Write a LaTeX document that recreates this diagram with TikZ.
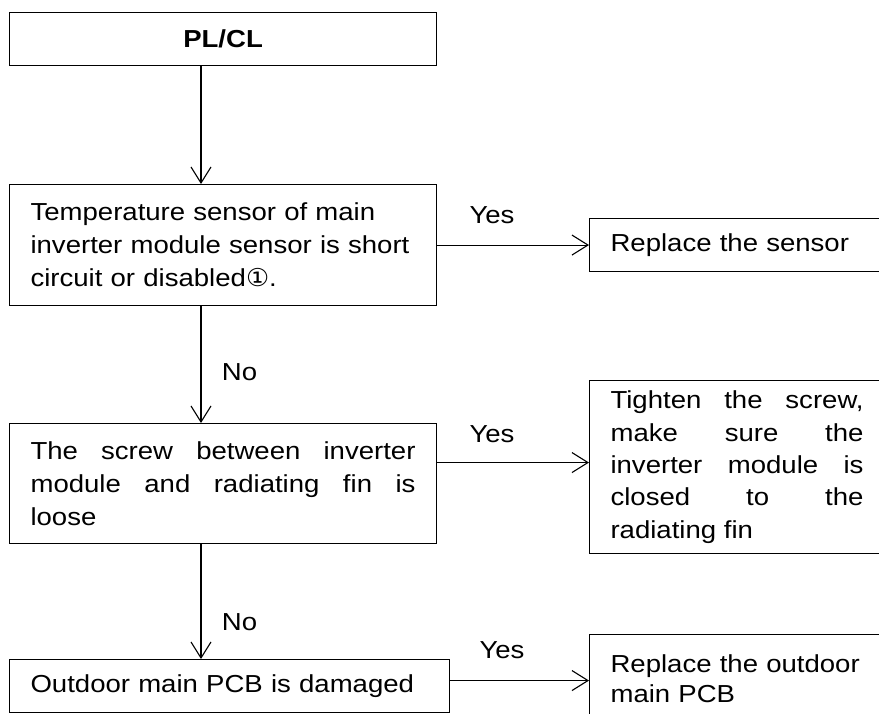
\documentclass[tikz,border=0pt]{standalone}
\usepackage{fontspec}
\setmainfont{Liberation Sans}[FakeStretch=1.12]
\newfontfamily\symfont{DejaVu Sans}[FakeStretch=1.05]
\usetikzlibrary{arrows.meta}
\begin{document}
\begin{tikzpicture}[x=1pt,y=-1pt,
  txt/.style={font=\fontsize{24.6}{33}\selectfont},
  box/.style={draw, line width=1.1pt, rectangle, inner ysep=0pt, inner xsep=21pt,
    anchor=north west, txt},
  conn/.style={line width=1.1pt, -{Straight Barb[length=16pt,width=20pt,line width=1.1pt]}},
  lbl/.style={txt, inner sep=0pt}]
\clip (0,0) rectangle (879,713);
\fill[white] (0,0) rectangle (879,713);
\coordinate (ax) at (201,0);
% left column
\node[box, text width=385pt, minimum height=53pt, align=center,
  font=\bfseries\fontsize{24.6}{33}\selectfont] (b1) at (9,12) {PL/CL};
\node[box, text width=385pt, minimum height=121pt, align=left] (b2) at (9,184)
  {Temperature sensor of main\\inverter module sensor is short\\circuit or disabled{\symfont ①}.};
\node[box, text width=385pt, minimum height=120pt, align=justify] (b3) at (9,423)
  {The screw between inverter\linebreak module and radiating fin is\linebreak loose};
\node[box, text width=398pt, minimum height=53pt, align=left] (b4) at (9,659)
  {Outdoor main PCB is damaged};
% right column
\node[box, text width=289pt, minimum height=53pt, align=left] (r1) at (589,218)
  {Replace the sensor};
\node[box, text width=253pt, minimum height=173pt, align=justify,
  font=\fontsize{24.6}{32.3}\selectfont] (r2) at (589,380)
  {Tighten the screw,\linebreak make sure the\linebreak inverter module is\linebreak closed to the\linebreak radiating fin};
\node[box, text width=289pt, minimum height=89pt, align=left,
  font=\fontsize{24.6}{30}\selectfont] (r3) at (589,634)
  {Replace the outdoor\\main PCB};
% connectors
\draw[conn] (b1.south -| ax) -- (b2.north -| ax);
\draw[conn] (b2.south -| ax) -- (b3.north -| ax);
\draw[conn] (b3.south -| ax) -- (b4.north -| ax);
\draw[conn] (b2.east) -- (b2.east -| r1.west);
\draw[conn] ([yshift=4.5pt]b3.east |- r2.west) -- ([yshift=4.5pt]r2.west);
\draw[conn] ([yshift=5.5pt]b4.east) -- ([yshift=5.5pt]b4.east -| r3.west);
% labels
\node[lbl] (y1) at (492,215) {Yes};
\node[lbl] (y2) at (492,434) {Yes};
\node[lbl] (y3) at (502,650) {Yes};
\node[lbl] (n1) at (239.5,372) {No};
\node[lbl] (n2) at (239.5,622) {No};
\end{tikzpicture}
\end{document}
